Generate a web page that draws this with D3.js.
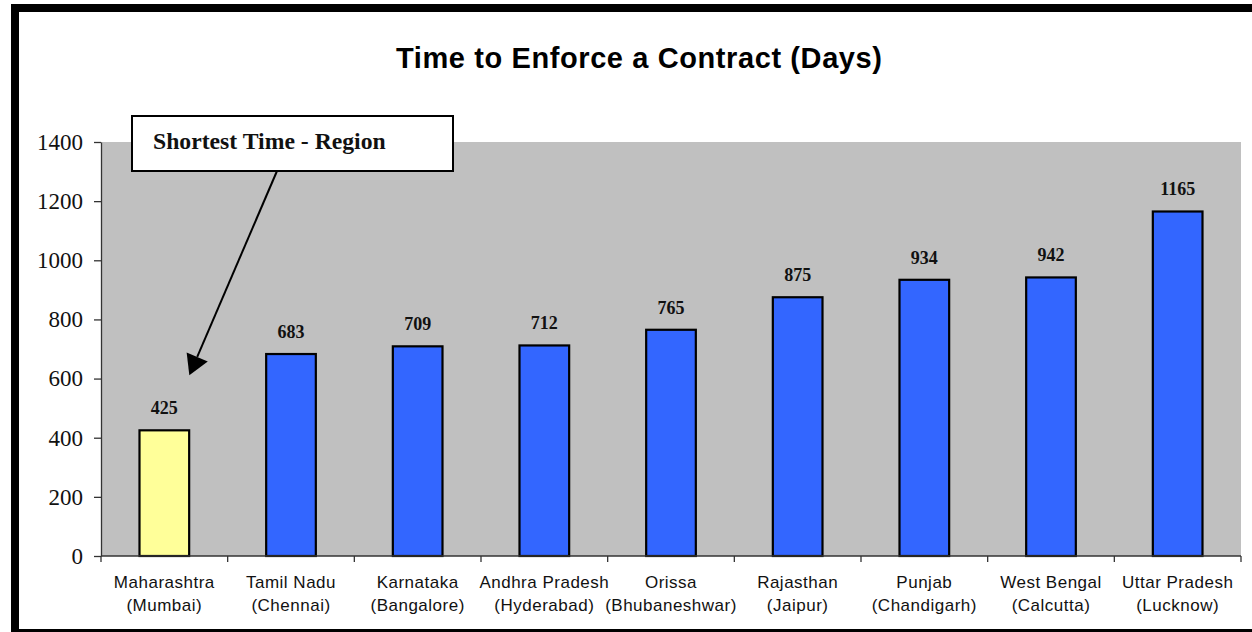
<!DOCTYPE html>
<html><head><meta charset="utf-8">
<script src="https://cdn.jsdelivr.net/npm/d3@7"></script>
<style>body{margin:0;background:#fff}svg{display:block}</style>
</head><body><svg id="c" width="1252" height="632"></svg>
<script>
const states = ["Maharashtra","Tamil Nadu","Karnataka","Andhra Pradesh","Orissa","Rajasthan","Punjab","West Bengal","Uttar Pradesh"];
const cities = ["(Mumbai)","(Chennai)","(Bangalore)","(Hyderabad)","(Bhubaneshwar)","(Jaipur)","(Chandigarh)","(Calcutta)","(Lucknow)"];
const days = [425,683,709,712,765,875,934,942,1165];
const yTicks = [0,200,400,600,800,1000,1200,1400];
const titleText = "Time to Enforce a Contract (Days)";
const calloutText = "Shortest Time - Region";
const highlightState = "Maharashtra";

const svg = d3.select("#c");
const W = 1252, H = 632;
const plot = {left:101, right:1241, top:142, bottom:556};

svg.append("rect").attr("width",W).attr("height",H).attr("fill","#fff");

const x = d3.scaleBand().domain(states).range([plot.left, plot.right]).paddingInner(0.6).paddingOuter(0.3);
const y = d3.scaleLinear().domain([0,1400]).range([plot.bottom, plot.top]);

// plot background
svg.append("rect").attr("x",plot.left).attr("y",plot.top)
  .attr("width",plot.right-plot.left).attr("height",plot.bottom-plot.top).attr("fill","#C0C0C0");

// bars
const data = states.map((s,i)=>({state:s, city:cities[i], v:days[i]}));
svg.append("g").selectAll("rect").data(data).join("rect")
  .attr("x",d=>x(d.state)+0.5).attr("width",x.bandwidth()-1)
  .attr("y",d=>y(d.v)).attr("height",d=>y(0)-y(d.v))
  .attr("fill",d=>d.state===highlightState?"#FFFF99":"#3366FF")
  .attr("stroke","#000").attr("stroke-width",2.2);

// value labels
svg.append("g").selectAll("text").data(data).join("text")
  .attr("x",d=>x(d.state)+x.bandwidth()/2).attr("y",d=>y(d.v)-16)
  .attr("text-anchor","middle")
  .style("font-family","'Liberation Serif','Times New Roman',serif")
  .style("font-weight","bold").style("font-size","18px").attr("fill","#111")
  .text(d=>d.v);

// y axis
const yAxis = svg.append("g").attr("transform",`translate(${plot.left},0)`)
  .call(d3.axisLeft(y).tickValues(yTicks).tickFormat(d3.format("d")).tickSize(7).tickSizeOuter(0).tickPadding(11));
yAxis.select(".domain").attr("stroke","#333").attr("stroke-width",1.3);
yAxis.selectAll(".tick line").attr("stroke","#333").attr("stroke-width",1.3);
yAxis.selectAll(".tick text")
  .style("font-family","'Liberation Serif','Times New Roman',serif")
  .style("font-size","23px").attr("fill","#111");

// x axis line and ticks at category boundaries
const step = x.step();
const bounds = states.map(s=>x(s)-step*0.3).concat([plot.right]);
const xa = svg.append("g");
xa.append("line").attr("x1",plot.left).attr("x2",plot.right).attr("y1",plot.bottom).attr("y2",plot.bottom)
  .attr("stroke","#333").attr("stroke-width",1.3);
xa.selectAll("line.t").data(bounds).join("line").attr("class","t")
  .attr("x1",d=>d).attr("x2",d=>d).attr("y1",plot.bottom).attr("y2",plot.bottom+6)
  .attr("stroke","#333").attr("stroke-width",1.3);

// x labels
const xl = svg.append("g").selectAll("text").data(data).join("text")
  .attr("text-anchor","middle")
  .style("font-family","'Liberation Sans',Arial,sans-serif")
  .style("font-size","17px").style("letter-spacing","0.5px").attr("fill","#111");
xl.append("tspan").attr("x",d=>x(d.state)+x.bandwidth()/2).attr("y",588).text(d=>d.state);
xl.append("tspan").attr("x",d=>x(d.state)+x.bandwidth()/2).attr("y",611).text(d=>d.city);

// title
svg.append("text").attr("x",639).attr("y",68).attr("text-anchor","middle")
  .style("font-family","'Liberation Sans',Arial,sans-serif")
  .style("font-weight","bold").style("font-size","29px").attr("fill","#000")
  .attr("textLength",486).attr("lengthAdjust","spacing")
  .text(titleText);

// callout
const hx = x(highlightState)+x.bandwidth()/2, hy = y(days[states.indexOf(highlightState)]);
const box = {x:132, y:116, w:321, h:55};
svg.append("rect").attr("x",box.x).attr("y",box.y).attr("width",box.w).attr("height",box.h)
  .attr("fill","#fff").attr("stroke","#000").attr("stroke-width",2);
svg.append("text").attr("x",153).attr("y",149)
  .style("font-family","'Liberation Serif','Times New Roman',serif")
  .style("font-weight","bold").style("font-size","23.7px").attr("fill","#111")
  .text(calloutText);

const start = [277, box.y+box.h];
const tip = [hx+25, hy-55];
const dx = tip[0]-start[0], dy = tip[1]-start[1], L = Math.hypot(dx,dy);
const ux = dx/L, uy = dy/L, px = -uy, py = ux;
const hl = 20, hw = 11.5;
const base = [tip[0]-ux*hl, tip[1]-uy*hl];
svg.append("line").attr("x1",start[0]).attr("y1",start[1]).attr("x2",base[0]).attr("y2",base[1])
  .attr("stroke","#000").attr("stroke-width",2);
svg.append("path").attr("d",`M${tip[0]},${tip[1]}L${base[0]+px*hw},${base[1]+py*hw}L${base[0]-px*hw},${base[1]-py*hw}Z`)
  .attr("fill","#000");

// frame
svg.append("rect").attr("x",15).attr("y",8).attr("width",1260).attr("height",625)
  .attr("fill","none").attr("stroke","#000").attr("stroke-width",8);
</script></body></html>
